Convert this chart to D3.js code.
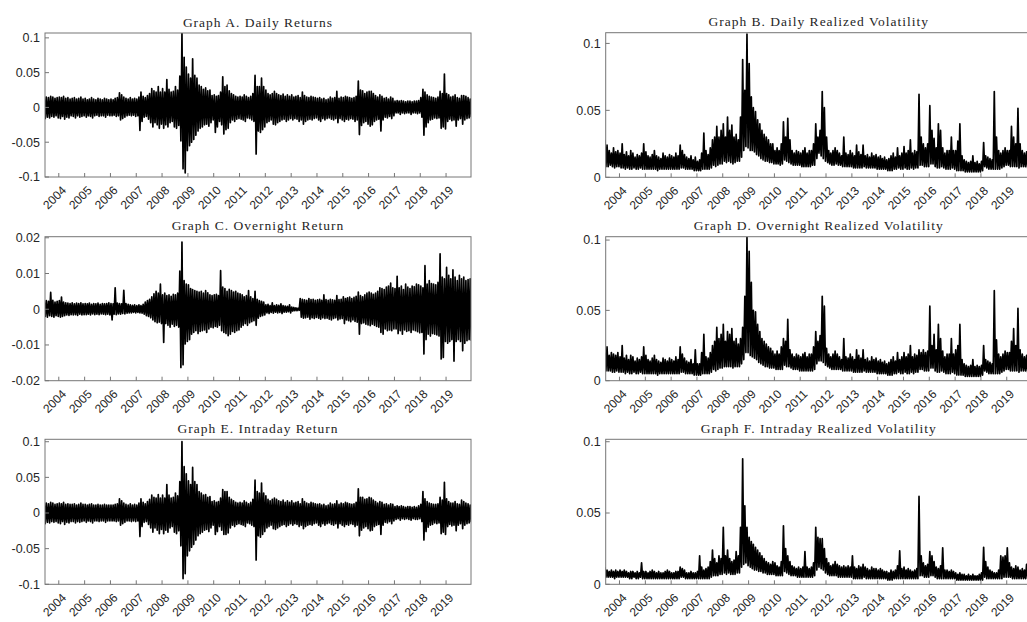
<!DOCTYPE html>
<html>
<head>
<meta charset="utf-8">
<script src="https://cdn.jsdelivr.net/npm/d3@7"></script>
<style>
body { margin: 0; background: #fff; }
svg { display: block; }
</style>
</head>
<body>
<svg id="chart" width="1027" height="622"></svg>
<script>
// Monthly envelopes (max / min of the daily values), Jun 2003 .. Dec 2019, 199 months.
// One row per year, the first row holds Jun..Dec 2003.

const dailyRetHi = [
  .017,.015,.014,.016,.015,.013,.014,
  .015,.014,.016,.013,.014,.012,.013,.014,.012,.013,.015,.012,
  .013,.011,.012,.014,.012,.011,.013,.012,.011,.013,.012,.011,
  .012,.011,.013,.014,.021,.018,.015,.013,.012,.014,.012,.013,
  .012,.015,.022,.016,.014,.017,.020,.027,.024,.022,.030,.022,
  .027,.022,.040,.026,.022,.023,.030,.025,.045,.107,.072,.058,
  .048,.042,.070,.046,.042,.032,.030,.026,.028,.024,.025,.017,
  .018,.016,.017,.022,.044,.030,.032,.024,.020,.018,.016,.015,
  .016,.015,.018,.016,.014,.016,.020,.046,.030,.030,.042,.030,
  .025,.020,.018,.020,.023,.020,.018,.017,.019,.016,.018,.016,
  .018,.015,.016,.017,.014,.022,.017,.015,.014,.016,.015,.014,
  .013,.014,.012,.013,.011,.012,.015,.013,.014,.023,.013,.015,
  .014,.016,.015,.014,.013,.014,.016,.038,.025,.024,.020,.022,
  .023,.023,.020,.017,.015,.018,.016,.013,.014,.012,.015,.013,
  .009,.010,.009,.010,.009,.008,.009,.009,.008,.009,.009,.010,
  .014,.026,.022,.018,.016,.015,.014,.013,.015,.023,.020,.048,
  .020,.018,.015,.016,.018,.014,.013,.017,.017,.016,.014,.012
];
const dailyRetLo = [
  -.016,-.014,-.015,-.013,-.014,-.012,-.015,
  -.016,-.013,-.017,-.014,-.015,-.012,-.013,-.015,-.012,-.014,-.013,-.012,
  -.014,-.012,-.013,-.015,-.012,-.011,-.013,-.012,-.012,-.014,-.011,-.012,
  -.012,-.011,-.013,-.012,-.018,-.016,-.014,-.012,-.011,-.012,-.011,-.013,
  -.012,-.033,-.020,-.014,-.013,-.017,-.022,-.028,-.022,-.025,-.030,-.024,
  -.030,-.025,-.028,-.022,-.020,-.028,-.030,-.026,-.048,-.088,-.094,-.062,
  -.055,-.050,-.046,-.040,-.034,-.030,-.028,-.025,-.024,-.027,-.022,-.018,
  -.036,-.028,-.020,-.025,-.038,-.032,-.030,-.022,-.018,-.020,-.017,-.016,
  -.017,-.018,-.020,-.015,-.016,-.018,-.020,-.067,-.034,-.036,-.032,-.028,
  -.022,-.020,-.018,-.024,-.025,-.022,-.020,-.018,-.017,-.020,-.018,-.016,
  -.018,-.016,-.017,-.020,-.018,-.024,-.020,-.018,-.017,-.018,-.016,-.015,
  -.018,-.020,-.016,-.018,-.016,-.015,-.017,-.018,-.016,-.022,-.016,-.018,
  -.020,-.017,-.018,-.016,-.017,-.020,-.018,-.039,-.026,-.022,-.020,-.024,
  -.027,-.025,-.020,-.018,-.017,-.034,-.018,-.014,-.015,-.013,-.016,-.012,
  -.008,-.008,-.010,-.008,-.009,-.008,-.008,-.010,-.008,-.008,-.009,-.008,
  -.014,-.040,-.028,-.022,-.018,-.017,-.015,-.016,-.015,-.030,-.028,-.031,
  -.020,-.017,-.019,-.018,-.027,-.018,-.016,-.024,-.018,-.016,-.015,-.014
];

const dailyVolHi = [
  .028,.024,.020,.018,.022,.019,.020,
  .018,.025,.017,.019,.016,.020,.018,.015,.017,.016,.018,.025,
  .019,.016,.015,.017,.020,.016,.015,.014,.018,.016,.015,.017,
  .016,.015,.018,.016,.024,.020,.017,.015,.014,.016,.013,.015,
  .012,.013,.018,.033,.020,.017,.022,.028,.030,.038,.030,.035,
  .040,.030,.045,.035,.039,.030,.032,.028,.045,.088,.065,.107,
  .085,.060,.052,.049,.043,.040,.035,.032,.030,.028,.025,.025,
  .020,.022,.020,.025,.0415,.030,.044,.028,.020,.018,.020,.019,
  .018,.020,.022,.018,.020,.020,.025,.040,.030,.035,.064,.052,
  .030,.020,.018,.020,.022,.020,.018,.016,.030,.018,.017,.020,
  .018,.016,.024,.019,.017,.024,.016,.017,.015,.018,.016,.017,
  .015,.016,.014,.015,.013,.014,.016,.018,.015,.022,.016,.018,
  .023,.018,.020,.028,.018,.020,.019,.062,.030,.025,.022,.025,
  .0535,.035,.029,.022,.040,.035,.022,.018,.020,.020,.030,.020,
  .020,.027,.040,.016,.013,.012,.011,.012,.016,.011,.012,.010,
  .012,.026,.016,.015,.014,.013,.064,.030,.020,.018,.020,.022,
  .020,.020,.038,.030,.025,.0515,.025,.020,.018,.019,.017,.018
];
const dailyVolLo = [
  .008,.008,.009,.008,.007,.008,.008,
  .007,.007,.006,.007,.006,.006,.007,.006,.006,.007,.006,.006,
  .006,.006,.006,.006,.006,.005,.006,.006,.006,.006,.006,.006,
  .006,.006,.006,.006,.007,.007,.006,.006,.006,.006,.005,.005,
  .005,.005,.006,.006,.006,.006,.007,.009,.008,.009,.010,.010,
  .012,.011,.012,.011,.010,.011,.012,.012,.015,.020,.023,.022,
  .020,.020,.019,.017,.016,.014,.013,.012,.012,.011,.011,.010,
  .010,.010,.009,.010,.013,.012,.011,.010,.009,.009,.009,.009,
  .008,.008,.008,.008,.008,.009,.009,.014,.018,.016,.014,.012,
  .011,.010,.009,.009,.010,.009,.009,.008,.008,.008,.008,.008,
  .007,.007,.007,.007,.007,.008,.007,.007,.007,.007,.007,.006,
  .006,.006,.006,.006,.005,.005,.005,.006,.006,.007,.006,.006,
  .007,.006,.006,.007,.006,.007,.007,.009,.009,.008,.008,.008,
  .010,.010,.008,.007,.007,.008,.007,.006,.006,.006,.007,.006,
  .005,.005,.005,.005,.004,.004,.004,.004,.004,.004,.004,.004,
  .005,.008,.007,.006,.006,.006,.006,.006,.006,.007,.008,.009,
  .009,.008,.008,.008,.008,.007,.008,.008,.008,.007,.007,.007
];

const overnightRetHi = [
  .0026,.0024,.0022,.0047,.0025,.0020,.0022,
  .0024,.0034,.0020,.0018,.0017,.0016,.0018,.0015,.0017,.0016,.0018,.0015,
  .0016,.0015,.0017,.0014,.0016,.0015,.0017,.0014,.0016,.0015,.0016,.0018,
  .0016,.0015,.0060,.0017,.0016,.0015,.0053,.0016,.0014,.0012,.0011,.0012,
  .0010,.0012,.0010,.0014,.0020,.0024,.0028,.0035,.0043,.0050,.0045,.0070,
  .0040,.0045,.0038,.0040,.0036,.0042,.0040,.0045,.0107,.0188,.0080,.0070,
  .0068,.0058,.0055,.0052,.0050,.0048,.0050,.0045,.0052,.0046,.0040,.0038,
  .0040,.0042,.0038,.0108,.0062,.0058,.0050,.0056,.0052,.0048,.0050,.0045,
  .0043,.0040,.0035,.0038,.0052,.0035,.0030,.0050,.0028,.0024,.0022,.0020,
  .0012,.0014,.0010,.0018,.0010,.0012,.0011,.0015,.0010,.0009,.0008,.0012,
  .0006,.0005,.0004,.0003,.0030,.0028,.0026,.0025,.0030,.0027,.0028,.0025,
  .0026,.0028,.0025,.0040,.0027,.0025,.0028,.0026,.0025,.0038,.0027,.0028,
  .0035,.0030,.0032,.0034,.0030,.0033,.0036,.0048,.0038,.0035,.0040,.0045,
  .0048,.0045,.0042,.0045,.0050,.0060,.0058,.0055,.0062,.0065,.0073,.0060,
  .0058,.0092,.0060,.0065,.0055,.0070,.0062,.0058,.0065,.0063,.0070,.0068,
  .0065,.0060,.0122,.0070,.0080,.0072,.0070,.0068,.0075,.0155,.0090,.0085,
  .0117,.0095,.0085,.0110,.0090,.0080,.0095,.0085,.0090,.0080,.0083,.0085
];
const overnightRetLo = [
  -.0020,-.0022,-.0018,-.0020,-.0022,-.0018,-.0020,
  -.0022,-.0020,-.0018,-.0016,-.0017,-.0015,-.0016,-.0015,-.0017,-.0014,-.0016,-.0015,
  -.0015,-.0014,-.0016,-.0013,-.0015,-.0014,-.0015,-.0013,-.0014,-.0015,-.0014,-.0016,
  -.0030,-.0014,-.0015,-.0013,-.0014,-.0012,-.0013,-.0011,-.0010,-.0010,-.0009,-.0010,
  -.0009,-.0010,-.0011,-.0014,-.0018,-.0020,-.0024,-.0030,-.0035,-.0038,-.0036,-.0040,
  -.0093,-.0040,-.0045,-.0050,-.0042,-.0048,-.0045,-.0050,-.0163,-.0155,-.0097,-.0090,
  -.0085,-.0070,-.0065,-.0060,-.0068,-.0062,-.0060,-.0058,-.0065,-.0055,-.0050,-.0052,
  -.0048,-.0050,-.0045,-.0060,-.0065,-.0068,-.0074,-.0070,-.0062,-.0065,-.0060,-.0058,
  -.0050,-.0045,-.0040,-.0045,-.0038,-.0035,-.0032,-.0045,-.0025,-.0020,-.0018,-.0016,
  -.0010,-.0012,-.0009,-.0011,-.0008,-.0010,-.0009,-.0012,-.0008,-.0008,-.0007,-.0010,
  -.0005,-.0004,-.0004,-.0003,-.0022,-.0025,-.0024,-.0022,-.0028,-.0024,-.0026,-.0023,
  -.0025,-.0028,-.0024,-.0026,-.0025,-.0028,-.0030,-.0026,-.0024,-.0030,-.0027,-.0026,
  -.0040,-.0030,-.0032,-.0035,-.0030,-.0034,-.0036,-.0070,-.0040,-.0038,-.0042,-.0044,
  -.0046,-.0042,-.0045,-.0048,-.0050,-.0065,-.0070,-.0055,-.0060,-.0058,-.0060,-.0055,
  -.0055,-.0068,-.0060,-.0070,-.0058,-.0062,-.0060,-.0065,-.0058,-.0060,-.0063,-.0066,
  -.0065,-.0125,-.0085,-.0070,-.0075,-.0068,-.0070,-.0072,-.0075,-.0139,-.0135,-.0090,
  -.0095,-.0090,-.0085,-.0145,-.0090,-.0085,-.0090,-.0116,-.0095,-.0088,-.0085,-.0088
];

const overnightVolHi = [
  .020,.024,.018,.020,.019,.018,.020,
  .017,.025,.016,.018,.015,.018,.017,.014,.016,.015,.017,.024,
  .018,.015,.014,.016,.018,.015,.014,.013,.016,.015,.014,.016,
  .015,.014,.017,.015,.024,.019,.016,.014,.013,.015,.012,.022,
  .012,.012,.020,.033,.017,.016,.020,.025,.028,.038,.030,.033,
  .040,.028,.035,.033,.037,.028,.030,.026,.030,.038,.060,.102,
  .092,.070,.050,.049,.040,.035,.030,.028,.026,.024,.023,.021,
  .019,.021,.019,.024,.030,.028,.0436,.022,.019,.017,.019,.018,
  .017,.019,.020,.017,.019,.019,.024,.035,.028,.032,.060,.053,
  .023,.019,.017,.019,.021,.019,.017,.015,.030,.017,.016,.019,
  .017,.015,.022,.018,.016,.022,.015,.016,.014,.017,.015,.016,
  .014,.015,.013,.014,.012,.013,.015,.017,.014,.020,.015,.017,
  .020,.017,.019,.025,.017,.019,.018,.022,.020,.022,.020,.021,
  .053,.025,.033,.022,.040,.030,.021,.017,.019,.019,.030,.019,
  .022,.025,.040,.015,.012,.011,.010,.011,.015,.010,.011,.010,
  .011,.025,.015,.014,.013,.012,.064,.029,.019,.017,.019,.021,
  .020,.020,.028,.037,.025,.0514,.022,.019,.017,.018,.016,.017
];
const overnightVolLo = [
  .007,.007,.007,.006,.006,.007,.006,
  .006,.006,.005,.006,.005,.005,.006,.005,.005,.006,.005,.005,
  .005,.005,.005,.005,.005,.004,.005,.005,.005,.005,.005,.005,
  .005,.005,.005,.005,.006,.006,.005,.005,.005,.005,.004,.004,
  .004,.004,.005,.005,.005,.005,.006,.008,.007,.008,.009,.009,
  .010,.010,.010,.010,.009,.010,.010,.010,.012,.015,.020,.020,
  .018,.017,.016,.015,.013,.012,.011,.010,.010,.009,.009,.009,
  .008,.008,.008,.008,.011,.010,.010,.009,.008,.008,.008,.007,
  .007,.007,.007,.007,.007,.007,.008,.012,.014,.014,.013,.011,
  .010,.009,.008,.008,.008,.008,.008,.007,.007,.007,.007,.007,
  .006,.006,.006,.006,.006,.007,.006,.006,.006,.006,.006,.005,
  .005,.005,.005,.005,.004,.004,.004,.005,.005,.006,.005,.005,
  .006,.005,.005,.006,.005,.006,.006,.008,.008,.007,.007,.007,
  .009,.009,.007,.006,.006,.007,.006,.005,.005,.005,.006,.005,
  .004,.004,.004,.004,.003,.003,.003,.003,.003,.003,.003,.003,
  .004,.007,.006,.005,.005,.005,.005,.005,.005,.006,.007,.008,
  .008,.007,.007,.007,.007,.006,.007,.007,.007,.006,.006,.006
];

const intradayRetHi = [
  .016,.014,.013,.015,.014,.012,.013,
  .014,.013,.015,.012,.013,.012,.012,.013,.011,.012,.014,.012,
  .012,.011,.012,.013,.011,.011,.012,.011,.011,.012,.011,.011,
  .011,.011,.012,.013,.020,.017,.014,.012,.011,.013,.011,.012,
  .011,.014,.020,.015,.013,.016,.019,.025,.022,.021,.026,.021,
  .025,.021,.040,.025,.021,.022,.028,.024,.044,.100,.065,.055,
  .045,.040,.064,.044,.040,.030,.028,.025,.026,.022,.023,.016,
  .017,.015,.016,.021,.033,.030,.030,.022,.019,.017,.015,.014,
  .015,.014,.017,.015,.013,.015,.019,.046,.030,.028,.042,.028,
  .024,.019,.017,.019,.021,.019,.017,.016,.018,.015,.017,.015,
  .017,.014,.015,.016,.013,.020,.016,.014,.013,.015,.014,.013,
  .012,.013,.011,.012,.010,.011,.014,.012,.013,.017,.012,.014,
  .013,.015,.014,.013,.012,.013,.015,.034,.022,.022,.019,.020,
  .022,.021,.018,.016,.014,.016,.015,.012,.013,.011,.013,.012,
  .009,.010,.009,.010,.009,.008,.009,.009,.008,.009,.008,.010,
  .012,.030,.020,.016,.014,.013,.012,.012,.013,.022,.018,.043,
  .020,.016,.014,.014,.016,.013,.012,.018,.016,.014,.013,.011
];
const intradayRetLo = [
  -.015,-.013,-.014,-.012,-.013,-.012,-.014,
  -.015,-.012,-.016,-.013,-.014,-.012,-.012,-.014,-.012,-.013,-.012,-.011,
  -.013,-.011,-.012,-.014,-.011,-.011,-.012,-.011,-.011,-.013,-.011,-.011,
  -.011,-.011,-.012,-.011,-.017,-.015,-.013,-.011,-.011,-.012,-.011,-.012,
  -.011,-.033,-.019,-.013,-.012,-.016,-.021,-.027,-.021,-.024,-.029,-.023,
  -.029,-.024,-.027,-.021,-.019,-.027,-.029,-.025,-.046,-.092,-.085,-.060,
  -.053,-.048,-.044,-.038,-.032,-.029,-.027,-.024,-.023,-.026,-.021,-.017,
  -.030,-.026,-.019,-.024,-.030,-.030,-.028,-.021,-.017,-.019,-.016,-.015,
  -.016,-.017,-.019,-.014,-.015,-.017,-.019,-.066,-.032,-.034,-.030,-.026,
  -.021,-.019,-.017,-.022,-.023,-.021,-.019,-.017,-.016,-.019,-.017,-.015,
  -.017,-.015,-.016,-.019,-.017,-.022,-.019,-.017,-.016,-.017,-.015,-.014,
  -.017,-.019,-.015,-.017,-.015,-.014,-.016,-.017,-.015,-.021,-.015,-.017,
  -.019,-.016,-.017,-.015,-.016,-.019,-.017,-.032,-.024,-.021,-.019,-.022,
  -.025,-.024,-.019,-.017,-.016,-.030,-.017,-.013,-.014,-.012,-.015,-.011,
  -.009,-.008,-.010,-.008,-.009,-.008,-.009,-.010,-.008,-.009,-.009,-.008,
  -.012,-.038,-.026,-.020,-.017,-.016,-.014,-.015,-.014,-.029,-.027,-.030,
  -.019,-.016,-.018,-.017,-.025,-.017,-.015,-.022,-.017,-.015,-.014,-.013
];

const intradayVolHi = [
  .012,.010,.009,.010,.009,.010,.009,
  .010,.009,.010,.009,.008,.009,.009,.008,.009,.008,.015,.009,
  .009,.008,.009,.010,.009,.008,.009,.008,.008,.009,.010,.009,
  .008,.008,.009,.009,.012,.011,.010,.008,.008,.009,.008,.008,
  .009,.020,.012,.010,.011,.012,.016,.024,.018,.015,.020,.018,
  .040,.020,.024,.018,.016,.017,.023,.020,.040,.088,.055,.040,
  .033,.030,.028,.026,.024,.022,.020,.018,.016,.015,.014,.016,
  .015,.013,.012,.016,.041,.025,.020,.016,.013,.012,.011,.012,
  .011,.012,.023,.012,.011,.012,.015,.040,.033,.032,.032,.025,
  .018,.015,.013,.014,.016,.014,.013,.012,.013,.012,.013,.012,
  .020,.012,.011,.013,.012,.014,.012,.011,.010,.012,.011,.011,
  .010,.011,.010,.009,.009,.008,.010,.009,.010,.013,.0235,.011,
  .012,.010,.011,.010,.009,.010,.011,.0616,.020,.015,.013,.014,
  .023,.020,.016,.012,.011,.013,.0256,.010,.010,.009,.010,.009,
  .008,.007,.008,.007,.007,.006,.007,.006,.007,.006,.006,.007,
  .008,.026,.016,.012,.010,.009,.008,.008,.010,.020,.019,.020,
  .0256,.015,.012,.011,.013,.012,.010,.011,.010,.014,.012,.015
];
const intradayVolLo = [
  .005,.005,.005,.005,.004,.005,.005,
  .005,.005,.005,.005,.004,.004,.005,.004,.004,.005,.004,.004,
  .004,.004,.004,.004,.004,.004,.004,.004,.004,.004,.004,.004,
  .004,.004,.004,.004,.005,.005,.004,.004,.004,.004,.004,.004,
  .004,.004,.004,.004,.004,.004,.005,.006,.006,.006,.007,.007,
  .008,.007,.008,.007,.007,.007,.008,.008,.012,.014,.015,.013,
  .012,.011,.010,.010,.009,.009,.008,.008,.007,.007,.007,.007,
  .006,.006,.006,.006,.009,.008,.007,.006,.006,.006,.005,.005,
  .005,.005,.005,.005,.005,.005,.006,.010,.012,.011,.010,.008,
  .007,.006,.006,.006,.006,.005,.005,.005,.005,.005,.005,.005,
  .004,.004,.004,.004,.004,.005,.004,.004,.004,.004,.004,.004,
  .004,.004,.004,.004,.003,.003,.003,.004,.004,.004,.004,.004,
  .004,.004,.004,.004,.004,.004,.004,.006,.006,.005,.005,.005,
  .006,.006,.005,.004,.004,.004,.004,.004,.004,.004,.004,.004,
  .003,.003,.003,.003,.003,.003,.003,.003,.003,.003,.003,.003,
  .003,.005,.004,.004,.004,.004,.004,.004,.004,.004,.005,.005,
  .005,.005,.004,.004,.004,.004,.004,.004,.004,.004,.004,.004
];

const yearTicks = d3.range(2004, 2020);

const panels = [
  { title: "Graph A. Daily Returns", hi: dailyRetHi, lo: dailyRetLo,
    yDomain: [-0.1, 0.107], yTicks: [-0.1, -0.05, 0, 0.05, 0.1], left: 45, top: 33, bottom: 177 },
  { title: "Graph B. Daily Realized Volatility", hi: dailyVolHi, lo: dailyVolLo,
    yDomain: [0, 0.108], yTicks: [0, 0.05, 0.1], left: 605.7, top: 32.7, bottom: 177.3 },
  { title: "Graph C. Overnight Return", hi: overnightRetHi, lo: overnightRetLo,
    yDomain: [-0.02, 0.0203], yTicks: [-0.02, -0.01, 0, 0.01, 0.02], left: 45, top: 236.7, bottom: 380.7 },
  { title: "Graph D. Overnight Realized Volatility", hi: overnightVolHi, lo: overnightVolLo,
    yDomain: [0, 0.1024], yTicks: [0, 0.05, 0.1], left: 605.7, top: 236.7, bottom: 380.7 },
  { title: "Graph E. Intraday Return", hi: intradayRetHi, lo: intradayRetLo,
    yDomain: [-0.1, 0.1034], yTicks: [-0.1, -0.05, 0, 0.05, 0.1], left: 45, top: 439.3, bottom: 584.3 },
  { title: "Graph F. Intraday Realized Volatility", hi: intradayVolHi, lo: intradayVolLo,
    yDomain: [0, 0.1017], yTicks: [0, 0.05, 0.1], left: 605.7, top: 439.3, bottom: 584.3 }
];

const plotWidth = 426;
const axisColor = "#767676";
const textColor = "#262626";
const months = d3.timeMonth.range(new Date(2003, 5, 1), new Date(2020, 0, 1));
const xStart = new Date(2003, 5, 20);
const xEnd = new Date(2019, 11, 20);

const svg = d3.select("#chart");

panels.forEach((p, k) => {
    let x = d3.scaleTime()
        .domain([xStart, xEnd])
        .range([p.left, p.left + plotWidth]);
    let y = d3.scaleLinear()
        .domain(p.yDomain)
        .range([p.bottom, p.top]);

    let g = svg.append("g");

    g.append("clipPath")
        .attr("id", "clip" + k)
        .append("rect")
        .attr("x", p.left)
        .attr("y", p.top)
        .attr("width", plotWidth)
        .attr("height", p.bottom - p.top);

    // dense daily series drawn as a zigzag between each month's max and min
    let pts = [];
    months.forEach((m, i) => {
        let t0 = +m, t1 = +d3.timeMonth.offset(m, 1);
        pts.push({t: new Date(t0 + (t1 - t0) * 0.25), v: p.hi[i]});
        pts.push({t: new Date(t0 + (t1 - t0) * 0.75), v: p.lo[i]});
    });

    let line = d3.line()
        .x(d => x(d.t))
        .y(d => y(d.v));

    g.append("path")
        .attr("clip-path", "url(#clip" + k + ")")
        .attr("d", line(pts))
        .attr("fill", "none")
        .attr("stroke", "#000")
        .attr("stroke-width", 1.7)
        .attr("stroke-linejoin", "round");

    // frame
    g.append("rect")
        .attr("x", p.left)
        .attr("y", p.top)
        .attr("width", plotWidth)
        .attr("height", p.bottom - p.top)
        .attr("fill", "none")
        .attr("stroke", axisColor)
        .attr("stroke-width", 1);

    // y ticks (inside) and labels
    let yAxis = g.append("g");
    yAxis.selectAll("line")
        .data(p.yTicks)
        .join("line")
        .attr("x1", p.left)
        .attr("x2", p.left + 4)
        .attr("y1", d => y(d))
        .attr("y2", d => y(d))
        .attr("stroke", axisColor);
    yAxis.selectAll("text")
        .data(p.yTicks)
        .join("text")
        .attr("x", p.left - 5)
        .attr("y", d => y(d))
        .attr("dy", "0.35em")
        .attr("text-anchor", "end")
        .attr("fill", textColor)
        .style("font-family", "'Liberation Sans', Arial, sans-serif")
        .style("font-size", "12.5px")
        .text(d => String(d));

    // x ticks (inside) and rotated year labels
    let xAxis = g.append("g");
    xAxis.selectAll("line")
        .data(yearTicks)
        .join("line")
        .attr("x1", d => x(new Date(d, 0, 1)))
        .attr("x2", d => x(new Date(d, 0, 1)))
        .attr("y1", p.bottom)
        .attr("y2", p.bottom - 4)
        .attr("stroke", axisColor);
    xAxis.selectAll("text")
        .data(yearTicks)
        .join("text")
        .attr("transform", d => "translate(" + (x(new Date(d, 0, 1)) + 2) + "," + (p.bottom + 8) + ") rotate(-45)")
        .attr("dy", "0.72em")
        .attr("text-anchor", "end")
        .attr("fill", textColor)
        .style("font-family", "'Liberation Sans', Arial, sans-serif")
        .style("font-size", "12px")
        .text(d => d);

    g.append("text")
        .attr("x", p.left + plotWidth / 2)
        .attr("y", p.top - 6.5)
        .attr("text-anchor", "middle")
        .attr("fill", textColor)
        .style("font-family", "'Liberation Serif', 'Times New Roman', serif")
        .style("font-size", "13.5px")
        .style("letter-spacing", "1px")
        .text(p.title);
});
</script>
</body>
</html>
